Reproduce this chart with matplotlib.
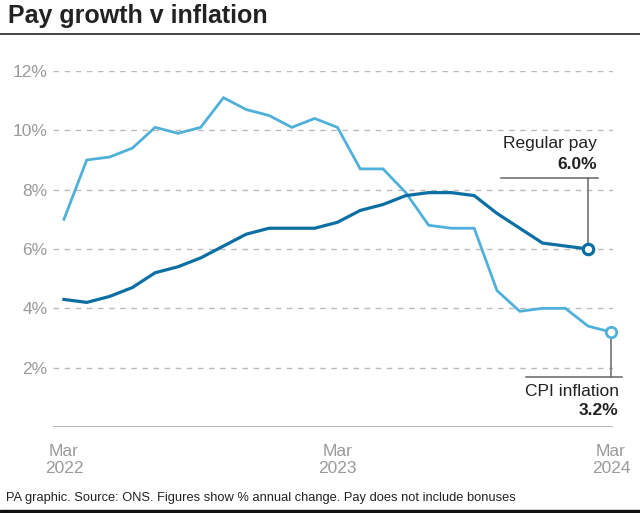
import matplotlib.pyplot as plt
from matplotlib.lines import Line2D
from matplotlib.patches import Rectangle

plt.rcParams['font.family'] = ['Liberation Sans', 'DejaVu Sans']

# monthly, Mar 2022 .. Mar 2024
months = list(range(25))
cpi = [7.0, 9.0, 9.1, 9.4, 10.1, 9.9, 10.1, 11.1, 10.7, 10.5, 10.1, 10.4,
       10.1, 8.7, 8.7, 7.9, 6.8, 6.7, 6.7, 4.6, 3.9, 4.0, 4.0, 3.4, 3.2]
# regular pay, Mar 2022 .. Feb 2024
pay = [4.3, 4.2, 4.4, 4.7, 5.2, 5.4, 5.7, 6.1, 6.5, 6.7, 6.7, 6.7,
       6.9, 7.3, 7.5, 7.8, 7.9, 7.9, 7.8, 7.2, 6.7, 6.2, 6.1, 6.0]
yticks = [2, 4, 6, 8, 10, 12]
xtick_pos = [0, 12, 24]
xtick_labels = ['Mar\n2022', 'Mar\n2023', 'Mar\n2024']

CPI_COL = '#4fb1da'
PAY_COL = '#0b6fa4'
GREY = '#9a9a9a'

fig = plt.figure(figsize=(6.4, 5.13), dpi=100)
ax = fig.add_axes([53/640, 1 - 427/513, 560/640, (427 - 71)/513])

ax.set_xlim(-0.48, 24.09)
ax.set_ylim(0, 12)

for y in yticks:
    ax.axhline(y, color='#bbbbbb', lw=1, ls=(0, (4, 4)), zorder=1)
ax.axhline(0, color='#aaaaaa', lw=1.2, zorder=1)

ax.plot(months[:len(cpi)], cpi, color=CPI_COL, lw=2, zorder=3, solid_joinstyle='miter')
ax.plot(months[:len(pay)], pay, color=PAY_COL, lw=2.3, zorder=4, solid_joinstyle='miter')
ax.plot(months[len(cpi)-1], cpi[-1], 'o', ms=7.5, mfc='white', mec=CPI_COL, mew=2,
        zorder=5, clip_on=False)
ax.plot(months[len(pay)-1], pay[-1], 'o', ms=7.5, mfc='white', mec=PAY_COL, mew=2.3,
        zorder=5, clip_on=False)

for s in ax.spines.values():
    s.set_visible(False)
ax.tick_params(length=0)
ax.set_yticks(yticks)
ax.set_yticklabels(['%d%%' % y for y in yticks], color=GREY, fontsize=12.5)
ax.tick_params(axis='y', pad=4)
ax.set_xticks(xtick_pos)
ax.set_xticklabels(xtick_labels, color=GREY, fontsize=12.5, linespacing=1.2)
ax.tick_params(axis='x', pad=12)

# annotations
lc = '#666666'
px = months[len(pay)-1]
ax.plot([px, px], [pay[-1] + 0.18, 8.4], color=lc, lw=1.1, zorder=2)
ax.plot([19.17, 23.42], [8.4, 8.4], color=lc, lw=1.1, clip_on=False)
ax.text(23.38, 9.55, 'Regular pay', ha='right', va='center', fontsize=12.5, color='#222222')
ax.text(23.38, 8.85, '6.0%', ha='right', va='center', fontsize=12.5, fontweight='bold', color='#222222')

cx = months[len(cpi)-1]
ax.plot([cx, cx], [cpi[-1] - 0.18, 1.7], color=lc, lw=1.1, zorder=2, clip_on=False)
ax.plot([20.26, 24.47], [1.7, 1.7], color=lc, lw=1.1, clip_on=False)
ax.text(24.34, 1.18, 'CPI inflation', ha='right', va='center', fontsize=12.5, color='#222222', clip_on=False)
ax.text(24.34, 0.55, '3.2%', ha='right', va='center', fontsize=12.5, fontweight='bold', color='#222222', clip_on=False)

# title, rule, footer
fig.text(8/640, 1 - 16/513, 'Pay growth v inflation', ha='left', va='center',
         fontsize=18, fontweight='bold', color='#222222')
fig.add_artist(Line2D([0, 1], [1 - 34/513, 1 - 34/513], color='#333333', lw=1.3))
fig.text(6/640, 1 - 498/513, 'PA graphic. Source: ONS. Figures show % annual change. Pay does not include bonuses',
         ha='left', va='center', fontsize=9.3, color='#222222')
fig.add_artist(Rectangle((0, 0), 1, 3/513, transform=fig.transFigure, color='#111111'))

fig.savefig('out.png', dpi=100)
